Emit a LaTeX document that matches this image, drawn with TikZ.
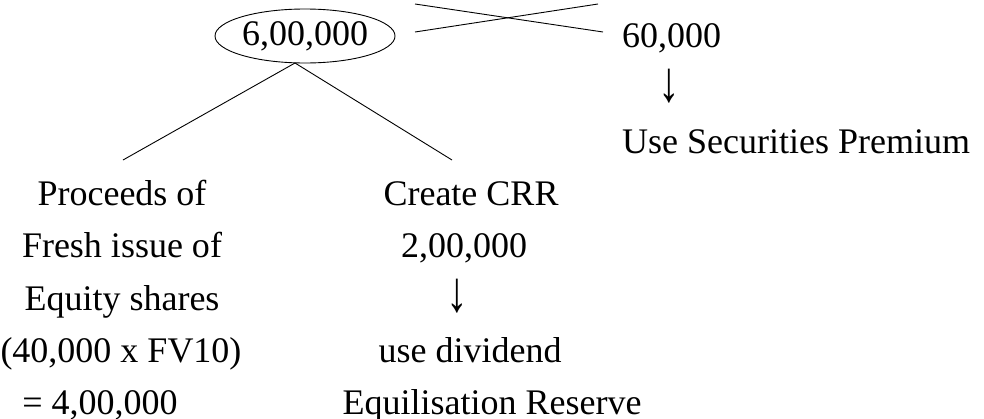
\documentclass[tikz,border=0pt]{standalone}
\usepackage{graphicx}
\usepackage{fontspec}
\setmainfont{Liberation Serif}
\usetikzlibrary{shapes.geometric}
\newcommand{\tallarrow}{\scalebox{1.2}[1.6]{↓}}
\begin{document}
\begin{tikzpicture}[x=1pt,y=-1pt,
  txt/.style={inner sep=0pt,anchor=base,font=\fontsize{36}{44}\selectfont},
  txtw/.style={txt,anchor=base west},
  link/.style={draw=black,line width=0.9pt}]
\useasboundingbox (0,0) rectangle (984,418);

% circled total
\node[ellipse,draw,line width=0.9pt,minimum width=180pt,minimum height=54pt,inner sep=0pt,
      font=\fontsize{36}{44}\selectfont] (total) at (305,36) {6,00,000};

% right branch
\node[txtw] (r1) at (622,47) {60,000};
\node[txt] (r2) at (669,101) {\tallarrow};
\node[txtw] (r3) at (622,153) {Use Securities Premium};

% crossing lines
\coordinate (xa1) at (415,4);
\coordinate (xa2) at (603,32);
\coordinate (xb1) at (415,32);
\coordinate (xb2) at (598,4);
\draw[link] (xa1) -- (xa2);
\draw[link] (xb1) -- (xb2);

% left branch
\node[txt] (l1) at (122,205) {Proceeds of};
\node[txt] (l2) at (122,257.5) {Fresh issue of};
\node[txt] (l3) at (122,310) {Equity shares};
\node[txt] (l4) at (121,362.5) {(40,000 x FV10)};
\node[txt] (l5) at (100,414) {= 4,00,000};

% middle branch
\node[txt] (m1) at (471,205) {Create CRR};
\node[txt] (m2) at (464,257.5) {2,00,000};
\node[txt] (m3) at (457,311) {\tallarrow};
\node[txt] (m4) at (470,362.5) {use dividend};
\node[txt] (m5) at (492,414) {Equilisation Reserve};

% split lines from the total
\coordinate (apex) at (295,63);
\coordinate (lend) at (123,160);
\coordinate (mend) at (452,160);
\draw[link] (apex) -- (lend);
\draw[link] (apex) -- (mend);
\end{tikzpicture}
\end{document}
